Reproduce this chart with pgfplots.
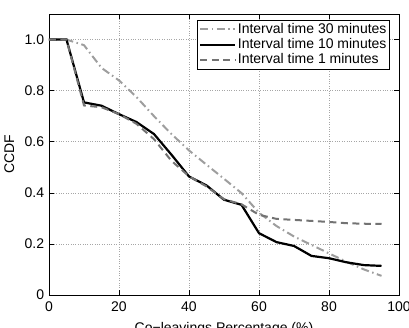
\documentclass[border=0pt]{standalone}
\usepackage{fontspec}
\setmainfont{Liberation Sans}
\usepackage{pgfplots}
\pgfplotsset{compat=1.18}

\definecolor{lightgr}{gray}{0.62}
\definecolor{midgr}{gray}{0.45}

\begin{document}
\fontsize{14}{16}\selectfont
\begin{tikzpicture}[x=1pt,y=1pt]
\begin{axis}[
  name=ax,
  at={(0,0)}, anchor=south west,
  width=350pt, height=281pt, scale only axis,
  xmin=0, xmax=100, ymin=0, ymax=1.1,
  xtick={0,20,40,60,80,100},
  ytick={0,0.2,0.4,0.6,0.8,1.0},
  yticklabels={0,0.2,0.4,0.6,0.8,1.0},
  /pgf/number format/assume math mode=true,
  tick align=inside,
  major tick length=5pt,
  tick style={black, line width=0.5pt},
  axis line style={line width=0.8pt},
  grid=major,
  grid style={dotted, gray!70, line width=0.6pt},
  xlabel={Co−leavings Percentage (\%)},
  ylabel={CCDF},
  xlabel style={yshift=-1pt},
  ylabel style={yshift=1pt},
  xticklabel style={yshift=-2pt},
  legend style={at={(0.974,0.979)}, anchor=north east, draw=black, line width=0.8pt,
    fill=white, inner sep=1.5pt, row sep=0pt,
    font=\fontsize{14}{16}\selectfont,
    nodes={inner sep=1.5pt}},
  legend cell align=left,
  legend image code/.code={\draw[#1] (0pt,0pt) -- (35pt,0pt);},
]
\addplot[lightgr, line width=2pt, dash pattern=on 8pt off 3.5pt on 1.5pt off 3.5pt] coordinates {
(0,1.0) (5,1.0) (10,0.978) (15,0.889) (20,0.84) (25,0.775) (30,0.70) (35,0.63)
(40,0.566) (45,0.51) (50,0.455) (55,0.399) (60,0.322) (65,0.27) (70,0.229)
(75,0.196) (80,0.163) (85,0.13) (90,0.10) (95,0.075)
};
\addlegendentry{Interval time 30 minutes}
\addplot[black, line width=2.2pt] coordinates {
(0,1.0) (5,1.0) (10,0.754) (15,0.741) (20,0.708) (25,0.677) (30,0.63) (35,0.549)
(40,0.464) (45,0.429) (50,0.373) (55,0.353) (60,0.242) (65,0.207) (70,0.192)
(75,0.153) (80,0.144) (85,0.128) (90,0.117) (95,0.114)
};
\addlegendentry{Interval time 10 minutes}
\addplot[midgr, line width=2pt, dash pattern=on 7pt off 4.5pt] coordinates {
(0,1.0) (5,1.0) (10,0.742) (15,0.735) (20,0.708) (25,0.67) (30,0.61) (35,0.525)
(40,0.465) (45,0.425) (50,0.375) (55,0.355) (60,0.314) (65,0.298) (70,0.294)
(75,0.29) (80,0.286) (85,0.281) (90,0.279) (95,0.278)
};
\addlegendentry{Interval time 1 minutes}
\end{axis}
\pgfresetboundingbox
\path (-49,-32) rectangle (360,295);
\end{tikzpicture}
\end{document}
